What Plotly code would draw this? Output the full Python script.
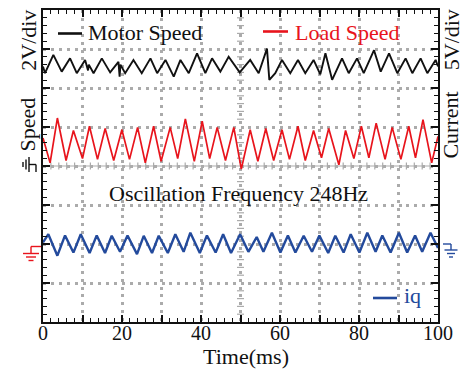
import plotly.graph_objects as go

# ---- waveform vertices: time (ms) and level (div) ----
motor_t = [0, 0.51, 2.62, 4.74, 6.85, 8.55, 10.66, 11.4, 11.6, 12.8, 14.89, 17.0, 19.1, 19.4, 19.6,
           20.8, 22.9, 25.0, 27.2, 28.9, 31.0, 33.1, 34.8, 36.9, 39.0, 41.1, 42.8, 44.9, 47.0,
           49.8, 52.45, 54.6, 56.7, 57.3, 58.8, 60.5, 62.6, 64.55, 66.4, 68.5, 70.2, 71.5, 73.2,
           75.7, 77.4, 79.5, 81.2, 83.8, 85.5, 87.6, 89.7, 91.8, 93.5, 95.6, 97.3, 99.4, 100]
motor_v = [6.55, 6.38, 6.85, 6.42, 6.76, 6.38, 6.72, 6.45, 6.6, 6.38, 6.76, 6.40, 6.67, 6.29, 6.6,
           6.38, 6.72, 6.38, 6.76, 6.38, 6.72, 6.29, 6.72, 6.38, 6.89, 6.38, 6.76, 6.42, 6.80,
           6.40, 6.72, 6.38, 7.01, 6.21, 6.38, 6.72, 6.38, 6.72, 6.38, 6.72, 6.35, 6.89, 6.21,
           6.76, 6.38, 6.76, 6.38, 6.97, 6.42, 6.89, 6.38, 6.76, 6.38, 6.76, 6.38, 6.72, 6.55]

load_t = [0, 1.8, 3.64, 5.84, 7.70, 10.0, 11.76, 13.8, 15.74, 17.9, 19.97, 21.9, 23.95, 25.9,
          28.0, 29.9, 32.2, 34.1, 36.04, 38.3, 40.3, 42.2, 44.1, 46.2, 48.3, 50.2, 52.45, 54.4,
          56.4, 58.4, 60.5, 62.4, 64.55, 66.4, 68.5, 70.5, 72.33, 74.9, 76.6, 78.7, 80.6, 82.5,
          84.35, 86.6, 88.4, 90.6, 92.6, 94.3, 96.2, 98.4, 100]
load_v = [4.72, 4.08, 5.23, 4.14, 4.91, 4.19, 5.02, 4.17, 4.96, 4.14, 4.93, 4.17, 4.99, 4.08,
          5.02, 4.12, 4.99, 4.19, 5.21, 4.12, 5.15, 4.19, 4.99, 4.14, 4.99, 3.92, 4.93, 4.12,
          4.96, 4.14, 4.93, 4.17, 5.02, 4.14, 4.91, 4.21, 4.96, 4.03, 4.91, 4.19, 5.02, 4.21,
          5.10, 4.17, 4.99, 4.17, 5.02, 4.21, 5.19, 4.08, 4.76]

iq_t = [0, 1.35, 3.64, 5.58, 7.7, 9.56, 11.8, 13.6, 15.7, 17.4, 19.5, 21.4, 23.8, 25.5, 27.6,
        29.3, 31.6, 33.5, 35.6, 37.3, 39.7, 41.5, 43.7, 45.6, 47.6, 49.9, 52.0, 54.1, 55.8,
        57.95, 60.1, 62.0, 63.9, 66.0, 68.1, 69.97, 72.2, 74.0, 76.1, 77.9, 80.1, 82.1, 84.2,
        85.9, 88.0, 90.1, 92.2, 94.2, 96.0, 98.1, 100]
iq_v = [2.04, 2.25, 1.70, 2.22, 1.78, 2.25, 1.77, 2.22, 1.77, 2.21, 1.80, 2.22, 1.74, 2.21, 1.77,
        2.21, 1.77, 2.25, 1.80, 2.29, 1.77, 2.22, 1.78, 2.25, 1.77, 2.25, 1.80, 2.18, 1.80,
        2.29, 1.78, 2.22, 1.78, 2.21, 1.80, 2.22, 1.77, 2.21, 1.78, 2.25, 1.78, 2.29, 1.80,
        2.22, 1.78, 2.29, 1.78, 2.22, 1.80, 2.29, 1.90]

x_ticks = [0, 10, 20, 30, 40, 50, 60, 70, 80, 90, 100]
x_tick_labels = ["0", "", "20", "", "40", "", "60", "", "80", "", "100"]
y_ticks = [0, 1, 2, 3, 4, 5, 6, 7, 8]

speed_ground = 4   # div
iq_ground = 2      # div

BLACK = "#111111"
RED = "#e8141c"
BLUE = "#234a9c"
GRID = "#ababab"
SERIF = "Liberation Serif, Times New Roman, serif"

fig = go.Figure()

# centre cross-hair ticks, oscilloscope style
cross_y = [k / 5 for k in range(1, 40) if k % 5]
cross_x = [k * 2 for k in range(1, 50) if k % 5]
fig.add_trace(go.Scatter(x=[50] * len(cross_y), y=cross_y, mode="markers",
                         marker=dict(symbol="line-ew", size=5, line=dict(width=1.2, color=GRID)),
                         hoverinfo="skip", showlegend=False))
fig.add_trace(go.Scatter(x=cross_x, y=[speed_ground] * len(cross_x), mode="markers",
                         marker=dict(symbol="line-ns", size=5, line=dict(width=1.2, color=GRID)),
                         hoverinfo="skip", showlegend=False))

fig.add_trace(go.Scatter(x=motor_t, y=motor_v, mode="lines", name="Motor Speed",
                         line=dict(color=BLACK, width=1.9), showlegend=False))
fig.add_trace(go.Scatter(x=load_t, y=load_v, mode="lines", name="Load Speed",
                         line=dict(color=RED, width=1.7), showlegend=False))
fig.add_trace(go.Scatter(x=iq_t, y=iq_v, mode="lines", name="iq",
                         line=dict(color=BLUE, width=2.4), showlegend=False))

shapes = [
    # solid centre line
    dict(type="line", xref="x", yref="y", x0=0, x1=100, y0=speed_ground, y1=speed_ground,
         line=dict(color=GRID, width=1.2), layer="below"),
]


def px_line(xa, ya, yref, pts, color, width=1.4):
    """Polyline segments positioned in pixels relative to an anchor."""
    out = []
    for (x0, y0), (x1, y1) in pts:
        out.append(dict(type="line", xref="paper", yref=yref,
                        xsizemode="pixel", ysizemode="pixel",
                        xanchor=xa, yanchor=ya, x0=x0, x1=x1, y0=y0, y1=y1,
                        line=dict(color=color, width=width)))
    return out


# ground marker for the speed channels (left, red)
shapes += px_line(0, iq_ground, "y", [
    ((-12, -2.5), (-2, -2.5)),
    ((-12, -2.5), (-12, -9.5)),
    ((-20, -9.5), (-4, -9.5)),
    ((-17, -13), (-7, -13)),
    ((-14.5, -16.5), (-9.5, -16.5)),
], RED)
# ground marker for the current channel (right, blue)
shapes += px_line(1, iq_ground, "y", [
    ((5, 0), (13, 0)),
    ((13, 0), (13, -6)),
    ((6.5, -6), (19.5, -6)),
    ((9, -9.5), (17, -9.5)),
    ((11, -13), (15, -13)),
], BLUE)
# rotated ground marker beside the "Speed" label
shapes += px_line(0, speed_ground, "y", [
    ((-14, 1.5), (-7, 1.5)),
    ((-7, 1.5), (-7, -6)),
    ((-14, -6), (-14, 9)),
    ((-17, -3.5), (-17, 6.5)),
    ((-20, -1), (-20, 4)),
], BLACK)

# legend key lines
shapes += px_line(0, 8, "y", [((15, -23.5), (39, -23.5))], BLACK, 2.6)
shapes += px_line(0, 8, "y", [((220, -21.5), (245, -21.5))], RED, 2.6)
shapes += px_line(0, 0, "y", [((330, 24), (354, 24))], BLUE, 2.6)


def px2paper_x(px):
    return (px - 43) / 395


def px2paper_y(py):
    return (322 - py) / 314.5


annotations = [
    dict(text="Motor Speed", x=px2paper_x(86), y=px2paper_y(30), xanchor="left", yanchor="middle",
         font=dict(color=BLACK, size=22)),
    dict(text="Load Speed", x=px2paper_x(293), y=px2paper_y(30), xanchor="left", yanchor="middle",
         font=dict(color=RED, size=22)),
    dict(text="iq", x=px2paper_x(402), y=px2paper_y(295), xanchor="left", yanchor="middle",
         font=dict(color=BLUE, size=22)),
    dict(text="Oscillation Frequency 248Hz", x=px2paper_x(238), y=px2paper_y(192),
         xanchor="center", yanchor="middle", font=dict(color=BLACK, size=22)),
    dict(text="Time(ms)", x=px2paper_x(246), y=px2paper_y(357), xanchor="center",
         yanchor="middle", font=dict(color=BLACK, size=22)),
    dict(text="2V/div", x=px2paper_x(28.5), y=px2paper_y(38), textangle=-90,
         xanchor="center", yanchor="middle", font=dict(color=BLACK, size=22)),
    dict(text="Speed", x=px2paper_x(28), y=px2paper_y(123), textangle=-90,
         xanchor="center", yanchor="middle", font=dict(color=BLACK, size=22)),
    dict(text="5V/div", x=px2paper_x(451), y=px2paper_y(38), textangle=-90,
         xanchor="center", yanchor="middle", font=dict(color=BLACK, size=22)),
    dict(text="Current", x=px2paper_x(451), y=px2paper_y(124), textangle=-90,
         xanchor="center", yanchor="middle", font=dict(color=BLACK, size=22)),
]
for a in annotations:
    a.update(xref="paper", yref="paper", showarrow=False, font_family=SERIF)

fig.update_layout(
    width=464, height=371,
    margin=dict(l=43, r=26, t=7.5, b=49),
    paper_bgcolor="white", plot_bgcolor="white",
    font=dict(family=SERIF, color=BLACK),
    shapes=shapes, annotations=annotations,
    showlegend=False,
)
fig.update_xaxes(
    range=[0, 100], tickvals=x_ticks, ticktext=x_tick_labels,
    ticks="inside", ticklen=7, tickwidth=1.5, tickcolor=BLACK,
    minor=dict(dtick=2, ticks="inside", ticklen=4, tickwidth=1.3, tickcolor=BLACK, showgrid=False),
    showline=True, linewidth=2, linecolor=BLACK, mirror="allticks",
    showgrid=True, gridcolor=GRID, gridwidth=3, griddash="3px,4.9px",
    zeroline=False, tickfont=dict(size=20, family=SERIF, color=BLACK),
    ticklabelstandoff=-8,
)
fig.update_yaxes(
    range=[0, 8], tickvals=y_ticks, showticklabels=False,
    ticks="inside", ticklen=7, tickwidth=1.5, tickcolor=BLACK,
    minor=dict(dtick=0.2, ticks="inside", ticklen=4, tickwidth=1.3, tickcolor=BLACK, showgrid=False),
    showline=True, linewidth=2, linecolor=BLACK, mirror="allticks",
    showgrid=True, gridcolor=GRID, gridwidth=3, griddash="3px,4.9px",
    zeroline=False,
)

fig.write_html("out.html")
